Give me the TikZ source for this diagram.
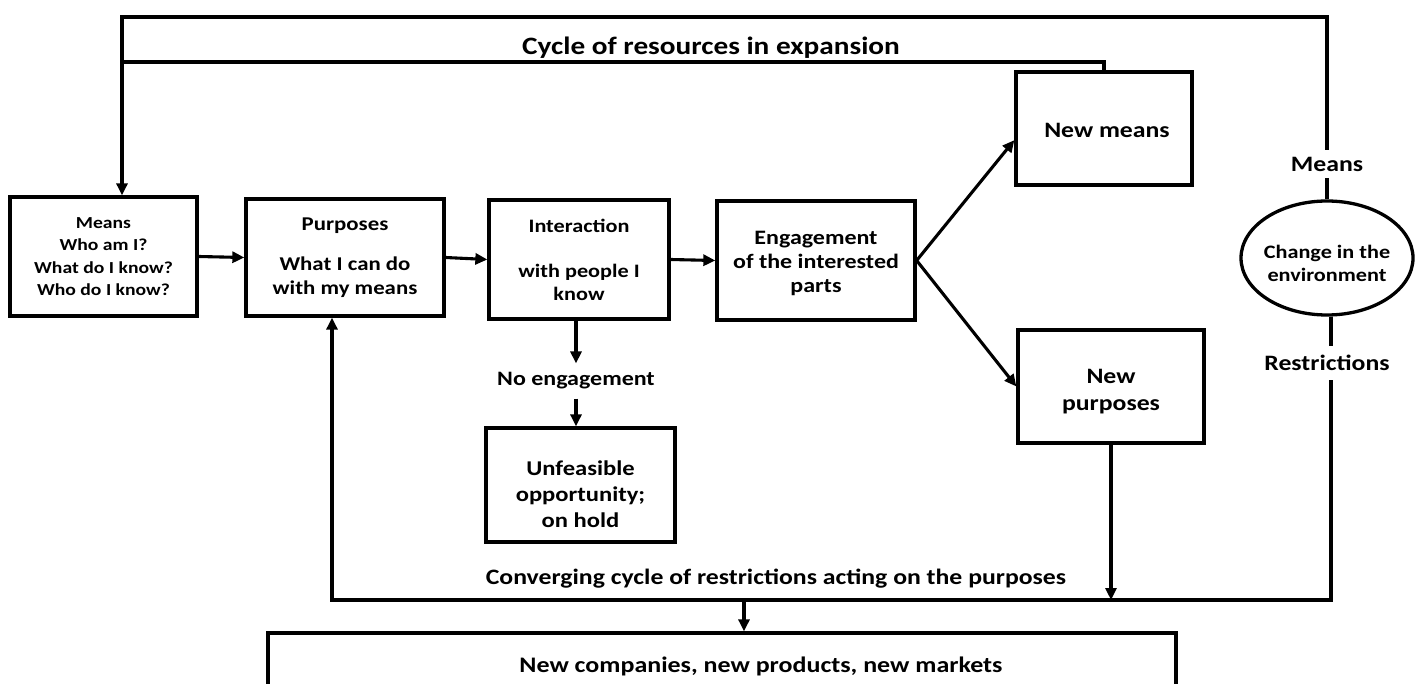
\documentclass[tikz,border=0pt]{standalone}
\usepackage{fontspec}
\setmainfont{Carlito}[FakeStretch=1.17]
\usetikzlibrary{arrows.meta,calc,shapes.geometric}
\newcommand{\fs}[2]{\bfseries\fontsize{#1}{#2}\selectfont}
\begin{document}
\begin{tikzpicture}[x=1pt,y=-1pt,
  box/.style={draw,line width=3.3pt,inner sep=0pt,align=center,font=\fs{19.5}{24}},
  txt/.style={inner sep=0pt,align=center},
  lbl/.style={inner sep=0pt,align=center,font=\fs{22}{26}},
  ln/.style={line width=3.1pt},
  arr/.style={line width=3.1pt,-{Triangle[length=12pt,width=11pt]}}]
\useasboundingbox (0,0) rectangle (1416,684);
% boxes
\node[box,minimum width=187pt,minimum height=119pt,font=\fs{16.8}{22.3}] (means) at (103.5,256.5) {Means\\Who am I?\\What do I know?\\Who do I know?};
\node[box,minimum width=198pt,minimum height=117pt] (purp) at (345,257.5) {Purposes\\[16pt]What I can do\\with my means};
\node[box,minimum width=180pt,minimum height=119pt,font=\fs{19}{23}] (inter) at (579,259.5) {Interaction\\[22pt]with people I\\know};
\node[box,minimum width=198pt,minimum height=119pt] (eng) at (816,260.5) {};
\node[txt,font=\fs{20.5}{24}] (engt) at ([yshift=-3pt]eng.center) {Engagement\\of the interested\\parts};
\node[box,minimum width=176pt,minimum height=113pt] (newm) at (1104,128.5) {};
\node[txt,font=\fs{22}{26}] (newmt) at ([xshift=3pt,yshift=-2pt]newm.center) {New means};
\node[box,minimum width=186pt,minimum height=113pt] (newp) at (1111,386.5) {};
\node[txt,font=\fs{22}{27}] (newpt) at ([yshift=-5pt]newp.center) {New\\purposes};
\node[box,minimum width=189pt,minimum height=114pt] (unf) at (580.5,485) {};
\node[txt,font=\fs{21}{26}] (unft) at ([yshift=-9pt]unf.center) {Unfeasible\\opportunity;\\on hold};
\node[box,ellipse,minimum width=172pt,minimum height=114pt] (env) at (1327,258) {};
\node[txt,font=\fs{19}{23}] (envt) at ([yshift=-5pt]env.center) {Change in the\\environment};
\node[box,minimum width=908pt,minimum height=64pt] (bottom) at (722,665) {};
\node[txt,font=\fs{22.2}{26}] (bottomt) at ([xshift=39pt,yshift=-1pt]bottom.center) {New companies, new products, new markets};
% labels
\node[lbl,font=\fs{25}{28}] (cyc) at (711,48) {Cycle of resources in expansion};
\node[lbl] (conv) at (776,579) {Converging cycle of restrictions acting on the purposes};
\node[lbl,inner ysep=7pt] (meansl) at (1327,164) {Means};
\node[lbl,inner ysep=9pt] (restl) at (1327,363) {Restrictions};
\node[lbl,font=\fs{20.5}{24},inner ysep=9pt] (nol) at (576,381) {No engagement};
% coordinates
\coordinate (tl) at (122,17);
\coordinate (tr) at (1327,17);
\coordinate (cl) at (122,62);
\coordinate (br) at (1331,600);
\coordinate (bl) at (332,600);
\coordinate (bd) at (744,600);
% connectors
\draw[arr] (meansl.north) -- (tr) -- (tl) -- (tl |- means.north);
\draw[ln] (newm.north) |- (cl);
\draw[ln] (env.north) -- (meansl.south);
\draw[ln] (env.south -| br) -- (restl.north -| br);
\draw[arr] (restl.south -| br) -- (br) -- (bl) -- (bl |- purp.south);
\draw[arr] (means.east) -- (purp.west);
\draw[arr] (purp.east) -- (inter.west);
\draw[arr] (inter.east) -- (eng.west);
\draw[arr] (eng.east) -- ($(newm.west)!0.2!(newm.south west)$);
\draw[arr] (eng.east) -- (newp.west);
\draw[arr] (inter.south -| nol) -- (nol.north);
\draw[arr] (nol.south) -- (nol.south |- unf.north);
\draw[arr] (newp.south) -- (newp.south |- bl);
\draw[arr] (bd) -- (bd |- bottom.north);
\end{tikzpicture}
\end{document}
